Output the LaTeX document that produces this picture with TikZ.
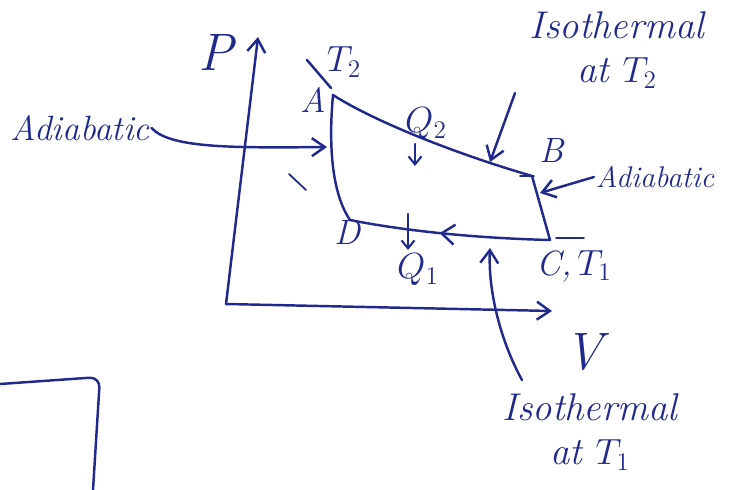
\documentclass[tikz,border=0pt]{standalone}
\usepackage{fontspec}
\usepackage{xcolor}
\definecolor{inkBlue}{HTML}{202A8C}
\usepackage{tikz}
\usetikzlibrary{arrows.meta,decorations.markings}
\tikzset{
  inkline/.style={
    draw=inkBlue,
    line width=1.4pt,
    line cap=round,
    line join=round
  },
  inkarrow/.style={
    inkline,
    -{Straight Barb[length=2.6mm,width=3.6mm]}
  },
  smallarrow/.style={
    inkline,
    line width=1.2pt,
    -{Straight Barb[length=1.6mm,width=2.6mm]}
  },
  flowmark/.style={
    postaction={decorate},
    decoration={markings,
      mark=at position 0.55 with {\arrow[inkBlue,line width=1.4pt]{Straight Barb[length=2.6mm,width=4mm]}}}
  },
  handtext/.style={
    text=inkBlue,
    font=\itshape\fontsize{20}{24}\selectfont,
    align=center,
    inner sep=1pt
  },
  smalltext/.style={
    handtext,
    font=\itshape\fontsize{17}{20}\selectfont
  },
  widetext/.style={
    handtext,
    font=\itshape\fontsize{22}{25}\selectfont
  },
  bigtext/.style={
    handtext,
    font=\itshape\fontsize{30}{32}\selectfont
  }
}

\begin{document}
\begin{tikzpicture}[x=0.02cm,y=-0.02cm]
  \useasboundingbox (0,0) rectangle (747,490);
  % axes
  \coordinate (O) at (226,304);
  \coordinate (Ptip) at (258,37);
  \coordinate (Vtip) at (552,311);
  \draw[inkarrow] (O) -- (Ptip);
  \draw[inkarrow] (O) -- (Vtip);
  \node[bigtext] (Plabel) at (216,52) {P};
  \node[bigtext] (Vlabel) at (584,352) {V};
  % corners of the cycle
  \coordinate (A) at (333,95);
  \coordinate (B) at (532,176);
  \coordinate (C) at (550,240);
  \coordinate (D) at (350,220);
  \draw[inkline] (A) .. controls (372,120) and (450,152) .. (B);
  \draw[inkline] (B) -- (C);
  \draw[inkline,flowmark] (C) .. controls (470,238) and (400,230) .. (D);
  \draw[inkline] (A) .. controls (328,150) and (333,195) .. (D);
  \node[handtext] (labA) at (313,100) {A};
  \node[handtext] (labB) at (552,150) {B};
  \node[handtext] (labC) at (574,266) {C,\,$T_1$};
  \node[handtext] (labD) at (347,232) {D};
  % heat flows
  \node[handtext] (Qtwo) at (426,124) {$Q_2$};
  \node[handtext] (Qone) at (418,270) {$Q_1$};
  \coordinate (qtwoTop) at (415,144);
  \coordinate (qtwoBot) at (415,166);
  \coordinate (qoneTop) at (408,214);
  \coordinate (qoneBot) at (408,250);
  \draw[smallarrow] (qtwoTop) -- (qtwoBot);
  \draw[smallarrow] (qoneTop) -- (qoneBot);
  % temperature T2
  \node[handtext] (Ttwo) at (344,62) {$T_2$};
  \coordinate (tickTop) at (307,60);
  \coordinate (tickBot) at (331,88);
  \draw[inkline] (tickTop) -- (tickBot);
  % small pen strokes
  \draw[inkline,line width=1pt] (289,174) -- (306,190);
  \draw[inkline,line width=1pt] (520,176) -- (534,176);
  \draw[inkline,line width=1pt] (556,238) -- (584,238);
  % labels with pointers
  \node[handtext] (adiaL) at (80,128) {Adiabatic};
  \coordinate (adiaLtip) at (327,147);
  \draw[inkarrow] (adiaL.east) .. controls (170,148) and (230,148) .. (adiaLtip);
  \node[widetext] (isoTwo) at (617,50) {Isothermal\\at $T_2$};
  \coordinate (isoTwoTail) at (515,93);
  \coordinate (isoTwoTip) at (490,162);
  \draw[inkarrow] (isoTwoTail) -- (isoTwoTip);
  \node[smalltext] (adiaR) at (655,177) {Adiabatic};
  \coordinate (adiaRtip) at (540,193);
  \draw[inkarrow] (adiaR.west) -- (adiaRtip);
  \node[widetext] (isoOne) at (590,432) {Isothermal\\at $T_1$};
  \coordinate (isoOneTail) at (522,380);
  \coordinate (isoOneTip) at (490,248);
  \draw[inkarrow] (isoOneTail) .. controls (500,340) and (488,290) .. (isoOneTip);
  % corner at lower left
  \draw[inkline,rounded corners=6pt] (0,384) -- (100,377) -- (93,490);
\end{tikzpicture}
\end{document}
